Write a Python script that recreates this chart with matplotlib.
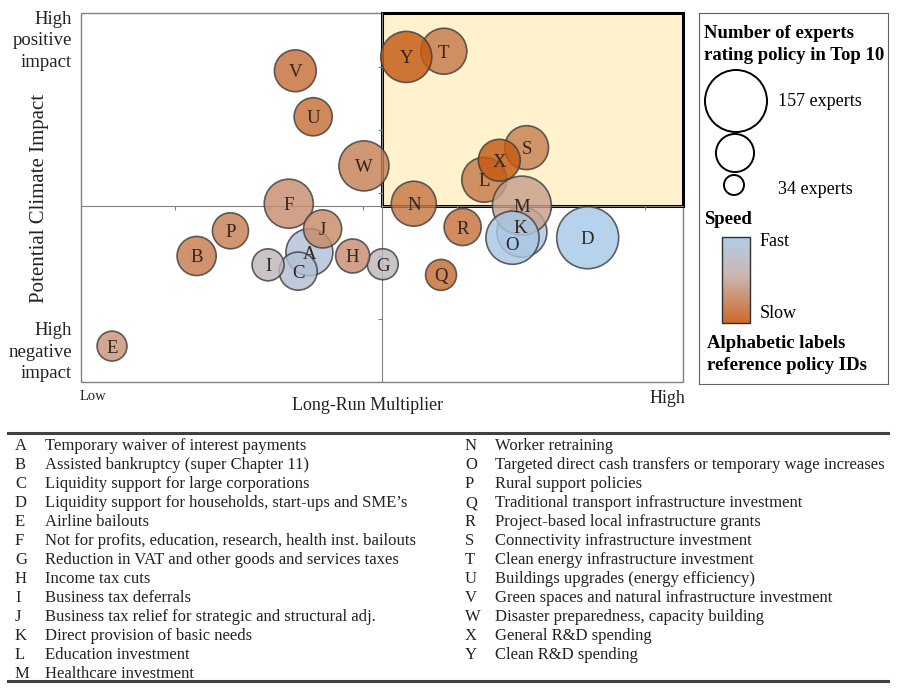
import numpy as np
import matplotlib.pyplot as plt
from matplotlib.colors import LinearSegmentedColormap
from matplotlib.patches import Rectangle

plt.rcParams['font.family'] = ['Liberation Serif', 'DejaVu Serif']

# policy ids, position on the two axes, experts rating it in top 10, speed (0 fast .. 1 slow)
ids = list("ABCDEFGHIJKLMNOPQRSTUVWXY")
multiplier = [2.43, 1.23, 2.31, 5.39, 0.33, 2.21, 3.21, 2.89, 1.99, 2.57, 4.69, 4.29, 4.69,
              3.54, 4.59, 1.59, 3.83, 4.06, 4.74, 3.86, 2.47, 2.28, 3.01, 4.45, 3.46]
climate = [2.06, 2.00, 1.76, 2.29, 0.57, 2.83, 1.87, 2.00, 1.86, 2.43, 2.38, 3.21, 2.80,
           2.83, 2.29, 2.40, 1.70, 2.46, 3.72, 5.25, 4.21, 4.94, 3.43, 3.52, 5.16]
experts = [113, 90, 87, 157, 63, 119, 66, 75, 69, 87, 122, 107, 148,
           107, 131, 81, 66, 84, 104, 110, 87, 98, 122, 98, 125]
speed = [0.12, 0.78, 0.15, 0.0, 0.62, 0.66, 0.32, 0.66, 0.32, 0.68, 0.05, 0.8, 0.55,
         0.82, 0.02, 0.76, 0.88, 0.84, 0.76, 0.8, 0.86, 0.86, 0.75, 1.0, 1.0]
policies = [
    "Temporary waiver of interest payments",
    "Assisted bankruptcy (super Chapter 11)",
    "Liquidity support for large corporations",
    "Liquidity support for households, start-ups and SME\u2019s",
    "Airline bailouts",
    "Not for profits, education, research, health inst. bailouts",
    "Reduction in VAT and other goods and services taxes",
    "Income tax cuts",
    "Business tax deferrals",
    "Business tax relief for strategic and structural adj.",
    "Direct provision of basic needs",
    "Education investment",
    "Healthcare investment",
    "Worker retraining",
    "Targeted direct cash transfers or temporary wage increases",
    "Rural support policies",
    "Traditional transport infrastructure investment",
    "Project-based local infrastructure grants",
    "Connectivity infrastructure investment",
    "Clean energy infrastructure investment",
    "Buildings upgrades (energy efficiency)",
    "Green spaces and natural infrastructure investment",
    "Disaster preparedness, capacity building",
    "General R&D spending",
    "Clean R&D spending",
]
legend_experts = [157, 87, 34]

x_mid, y_mid = 3.2, 2.79
x_max, y_max = 6.404, 5.857

cmap = LinearSegmentedColormap.from_list(
    "speed", [(0, "#a8c8e8"), (0.45, "#c8aea8"), (1, "#c55a11")])

# labels that sit off centre where bubbles overlap (points)
nudge = {'K': (-1, 4), 'O': (0, -4)}


def bubble_size(n):
    r_px = 10 + (np.asarray(n) - 34) * 21 / 123
    return (2 * r_px * 72 / 100) ** 2


fig = plt.figure(figsize=(9, 6.89), dpi=100)

ax = fig.add_axes([81/900, 1-382/689, 602/900, 369/689])
ax.set_xlim(0, x_max)
ax.set_ylim(0, y_max)
ax.spines['left'].set_position(('data', x_mid))
ax.spines['bottom'].set_position(('data', y_mid))
for s in ['left', 'bottom']:
    ax.spines[s].set_color('#808080')
ax.spines['top'].set_visible(False)
ax.spines['right'].set_visible(False)
ax.add_patch(Rectangle((0, 0), 1, 1, transform=ax.transAxes, fill=False,
                       ec='#808080', lw=1, clip_on=False, zorder=1))
ax.set_xticks(np.arange(1, 7))
ax.set_yticks(np.arange(1, 6))
ax.tick_params(direction='out', length=3, color='#808080', labelleft=False, labelbottom=False)

ax.add_patch(Rectangle((x_mid, y_mid), x_max - x_mid, y_max - y_mid, fc='#fff2cc',
                       ec='black', lw=2.2, clip_on=False, zorder=1.5))

ax.scatter(multiplier, climate, s=bubble_size(experts), c=speed, cmap=cmap, vmin=0, vmax=1,
           alpha=0.82, edgecolors='#3f3f3f', linewidths=1.2, zorder=3)
for i, lab in enumerate(ids):
    ax.annotate(lab, (multiplier[i], climate[i]), xytext=nudge.get(lab, (0, 0)),
                textcoords='offset points', ha='center', va='center_baseline', fontsize=13.5,
                color='#2e2420', zorder=4)

# axis texts
fig.text(72/900, 1-11/689, "High\npositive\nimpact", ha='right', va='top', fontsize=13.5,
         linespacing=1.33, color='#222222')
fig.text(72/900, 1-382/689, "High\nnegative\nimpact", ha='right', va='bottom', fontsize=13.5,
         linespacing=1.33, color='#222222')
fig.text(40/900, 1-198/689, "Potential Climate Impact", rotation=90, ha='center', va='center',
         fontsize=15, color='#222222')
fig.text(80/900, 1-397/689, "Low", ha='left', va='center', fontsize=10.5, color='#222222')
fig.text(667/900, 1-398/689, "High", ha='center', va='center', fontsize=13, color='#222222')
fig.text(368/900, 1-406/689, "Long-Run Multiplier", ha='center', va='center', fontsize=13,
         color='#222222')

# legend box
lax = fig.add_axes([699/900, 1-384/689, 189/900, 371/689])
lax.set_xticks([])
lax.set_yticks([])
for s in lax.spines.values():
    s.set_color('#606060')
lax.text(704, 33, "Number of experts", fontweight='bold', fontsize=13.5, va='center')
lax.text(704, 55, "rating policy in Top 10", fontweight='bold', fontsize=13.5, va='center')
lax.scatter([736, 735, 734], [101, 153, 185], s=bubble_size(legend_experts), facecolors='none',
            edgecolors='black', linewidths=1.4)
lax.text(778, 101, "157 experts", fontsize=13, va='center')
lax.text(778, 190, "34 experts", fontsize=13, va='center')
lax.text(704, 220, "Speed", fontweight='bold', fontsize=13.5, va='center')
grad = np.linspace(0, 1, 256).reshape(-1, 1)
lax.imshow(grad, extent=(722, 750, 323, 237), cmap=cmap, aspect='auto', alpha=0.9)
lax.add_patch(Rectangle((722, 237), 28, 86, fill=False, ec='#303030', lw=1))
lax.set_xlim(699, 888)
lax.set_ylim(384, 13)
lax.text(760, 241, "Fast", fontsize=13, va='center')
lax.text(760, 313, "Slow", fontsize=13, va='center')
lax.text(707, 343, "Alphabetic labels", fontweight='bold', fontsize=13.5, va='center')
lax.text(707, 365, "reference policy IDs", fontweight='bold', fontsize=13.5, va='center')

# policy table
tax = fig.add_axes([0, 0, 1, 265/689])
tax.set_xlim(0, 900)
tax.set_ylim(689, 424)
tax.axis('off')
tax.plot([8, 888], [433, 433], color='#404040', lw=2.2)
tax.plot([8, 888], [681, 681], color='#404040', lw=2.2)
half = 13
for i, (lab, desc) in enumerate(zip(ids, policies)):
    col, row = divmod(i, half)
    x0 = 15 + col * 450
    y0 = 444 + row * 19
    tax.text(x0, y0, lab, fontsize=12, va='center_baseline', color='#222222')
    tax.text(x0 + 30, y0, desc, fontsize=12, va='center_baseline', color='#222222')

fig.savefig("out.png", dpi=100)
